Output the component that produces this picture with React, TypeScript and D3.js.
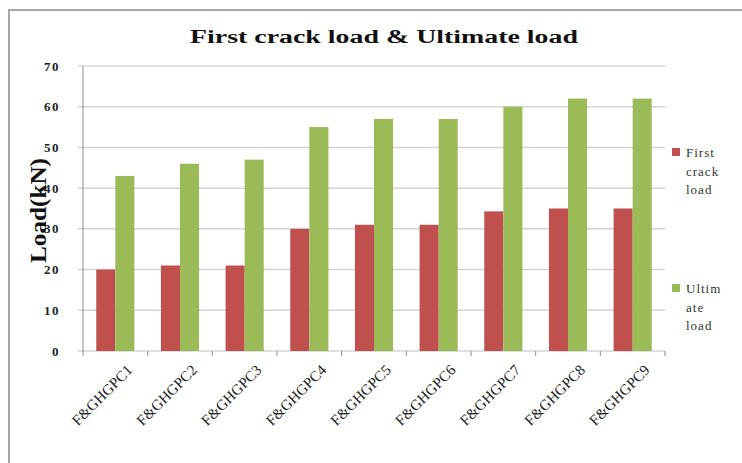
import * as d3 from "d3";

const categories = [
  "F&GHGPC1",
  "F&GHGPC2",
  "F&GHGPC3",
  "F&GHGPC4",
  "F&GHGPC5",
  "F&GHGPC6",
  "F&GHGPC7",
  "F&GHGPC8",
  "F&GHGPC9",
];
const firstCrack = [20, 21, 21, 30, 31, 31, 34.3, 35, 35];
const ultimate = [43, 46, 47, 55, 57, 57, 60, 62, 62];
const yTicks = [0, 10, 20, 30, 40, 50, 60, 70];

const W = 742;
const H = 463;
const PLOT = { left: 83, right: 665, top: 66, bottom: 351 };
const RED = "#C0504D";
const GREEN = "#9BBB59";
const SERIF = "'Liberation Serif', 'DejaVu Serif', serif";

export default function App() {
  const x = d3
    .scaleBand<string>()
    .domain(categories)
    .range([PLOT.left, PLOT.right])
    .paddingInner(0.41)
    .paddingOuter(0.205);
  const y = d3.scaleLinear().domain([0, 70]).range([PLOT.bottom, PLOT.top]);
  const step = x.step();
  const bw = x.bandwidth() / 2;

  return (
    <svg
      width={W}
      height={H}
      style={{ position: "absolute", left: 0, top: 0, background: "#fff" }}
    >
      {/* outer frame */}
      <rect x={9} y={10} width={W} height={H} fill="#fff" stroke="#a6a6a6" strokeWidth={2} />

      <text
        x={384}
        y={43}
        textAnchor="middle"
        fontFamily={SERIF}
        fontWeight="bold"
        fontSize={18}
        textLength={388}
        lengthAdjust="spacingAndGlyphs"
        fill="#111"
      >
        First crack load &amp; Ultimate load
      </text>

      {/* gridlines */}
      {yTicks.map((t) => (
        <line
          key={t}
          x1={PLOT.left - 5}
          x2={PLOT.right}
          y1={y(t)}
          y2={y(t)}
          stroke="#d4d4d4"
          strokeWidth={1.5}
        />
      ))}
      {/* y axis */}
      <line x1={PLOT.left} x2={PLOT.left} y1={PLOT.top} y2={PLOT.bottom} stroke="#8c8c8c" strokeWidth={1} />
      {yTicks.map((t) => (
        <text
          key={t}
          x={60}
          y={y(t) + 4.5}
          textAnchor="end"
          fontFamily={SERIF}
          fontWeight="bold"
          fontSize={13}
          letterSpacing={1.5}
          fill="#222"
        >
          {t}
        </text>
      ))}

      {/* x axis ticks */}
      {d3.range(categories.length + 1).map((i) => (
        <line
          key={i}
          x1={PLOT.left + i * step}
          x2={PLOT.left + i * step}
          y1={PLOT.bottom}
          y2={PLOT.bottom + 5}
          stroke="#8c8c8c"
          strokeWidth={1}
        />
      ))}

      {/* bars */}
      {categories.map((c, i) => (
        <g key={c}>
          <rect
            x={x(c)!}
            y={y(firstCrack[i])}
            width={bw}
            height={y(0) - y(firstCrack[i])}
            fill={RED}
          />
          <rect
            x={x(c)! + bw}
            y={y(ultimate[i])}
            width={bw}
            height={y(0) - y(ultimate[i])}
            fill={GREEN}
          />
        </g>
      ))}

      {/* x labels */}
      {categories.map((c) => (
        <text
          key={c}
          transform={`translate(${x(c)! + x.bandwidth() / 2 + 18},${PLOT.bottom + 20}) rotate(-45)`}
          textAnchor="end"
          fontFamily={SERIF}
          fontSize={15}
          fill="#222"
        >
          {c}
        </text>
      ))}

      {/* y label */}
      <text
        transform={`translate(46,${(PLOT.top + PLOT.bottom) / 2 + 2}) rotate(-90)`}
        textAnchor="middle"
        fontFamily={SERIF}
        fontWeight="bold"
        fontSize={24}
        textLength={105}
        lengthAdjust="spacingAndGlyphs"
        fill="#111"
      >
        Load(kN)
      </text>

      {/* legend */}
      <rect x={672} y={148} width={8} height={8} fill={RED} />
      {["First", "crack", "load"].map((s, i) => (
        <text key={s} x={686} y={157 + i * 18.5} fontFamily={SERIF} fontSize={13} letterSpacing={1} fill="#333">
          {s}
        </text>
      ))}
      <rect x={672} y={284} width={8} height={8} fill={GREEN} />
      {["Ultim", "ate", "load"].map((s, i) => (
        <text key={s} x={686} y={293 + i * 18.5} fontFamily={SERIF} fontSize={13} letterSpacing={1} fill="#333">
          {s}
        </text>
      ))}
    </svg>
  );
}
